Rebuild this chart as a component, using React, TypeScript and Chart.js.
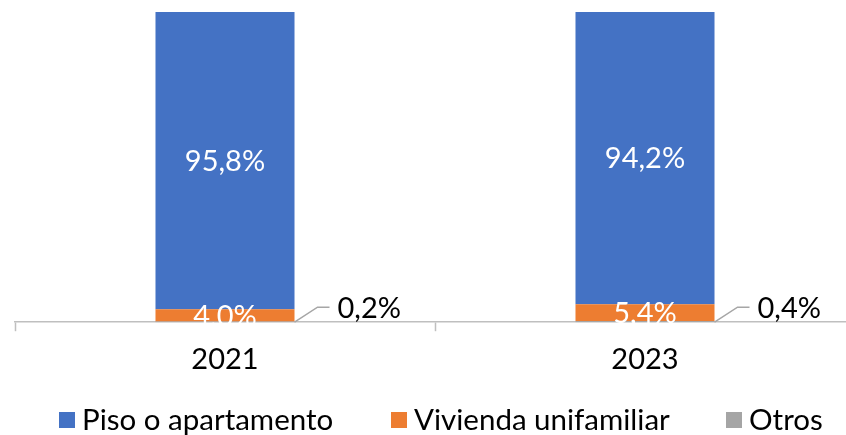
import React, { useEffect, useRef } from "react";
import { Chart, registerables } from "chart.js";

Chart.register(...registerables);

const categories = ["2021", "2023"];
const seriesNames = ["Piso o apartamento", "Vivienda unifamiliar", "Otros"];
const pisoValues = [95.8, 94.2];
const viviendaValues = [4.0, 5.4];
const otrosValues = [0.2, 0.4];
const seriesColors = ["#4472C4", "#ED7D31", "#A5A5A5"];

const FONT = "Lato";
const fmt = (v: number) => v.toFixed(1).replace(".", ",") + "%";

const labelPlugin = {
  id: "segLabels",
  afterDatasetsDraw(chart: any) {
    const ctx = chart.ctx;
    ctx.save();
    ctx.font = `29px ${FONT}`;
    ctx.textBaseline = "middle";
    chart.data.datasets.forEach((ds: any, di: number) => {
      const meta = chart.getDatasetMeta(di);
      meta.data.forEach((bar: any, i: number) => {
        const v = ds.data[i];
        const props = bar.getProps(["x", "y", "base", "width"], true);
        const midY = (props.y + props.base) / 2;
        if (ds.label !== "Otros") {
          ctx.fillStyle = "#FFFFFF";
          ctx.textAlign = "center";
          ctx.fillText(fmt(v), props.x, midY + 1);
        } else {
          const rx = props.x + props.width / 2;
          const by = props.base;
          ctx.strokeStyle = "#A6A6A6";
          ctx.lineWidth = 1.5;
          ctx.beginPath();
          ctx.moveTo(rx, by);
          ctx.lineTo(rx + 23, by - 15);
          ctx.lineTo(rx + 35, by - 15);
          ctx.stroke();
          ctx.fillStyle = "#000000";
          ctx.textAlign = "left";
          ctx.fillText(fmt(v), rx + 43, by - 14);
        }
      });
    });
    ctx.restore();
  },
};

const legendPlugin = {
  id: "customLegend",
  afterDraw(chart: any) {
    const ctx = chart.ctx;
    ctx.save();
    ctx.font = `29.5px ${FONT}`;
    ctx.textBaseline = "middle";
    ctx.textAlign = "left";
    const starts = [59, 391, 726];
    const cy = 420;
    seriesNames.forEach((name, i) => {
      const x = starts[i];
      ctx.fillStyle = seriesColors[i];
      ctx.fillRect(x, cy - 8, 16, 16);
      ctx.fillStyle = "#000";
      ctx.fillText(name, x + 23, cy);
    });
    ctx.restore();
  },
};

export default function App() {
  const ref = useRef<HTMLCanvasElement>(null);
  useEffect(() => {
    if (!ref.current) return;
    const order = [2, 1, 0];
    const all = [pisoValues, viviendaValues, otrosValues];
    const chart = new Chart(ref.current, {
      type: "bar",
      data: {
        labels: categories,
        datasets: order.map((i) => ({
          label: seriesNames[i],
          data: all[i],
          backgroundColor: seriesColors[i],
          borderWidth: 0,
          barPercentage: 1,
          categoryPercentage: 0.331,
        })),
      },
      options: {
        responsive: false,
        animation: false,
        devicePixelRatio: 1,
        layout: { padding: { top: 12, left: 15, right: 15, bottom: 47 } },
        plugins: {
          tooltip: { enabled: false },
          legend: { display: false },
        },
        scales: {
          x: {
            stacked: true,
            offset: true,
            grid: {
              offset: true,
              drawOnChartArea: false,
              tickLength: 9,
              color: "#BFBFBF",
              tickWidth: 1.5,
            },
            border: { color: "#BFBFBF", width: 1.5 },
            ticks: { color: "#000", font: { family: FONT, size: 29 }, padding: 11 },
          },
          y: { stacked: true, display: false, min: 0, max: 100 },
        },
      },
      plugins: [labelPlugin, legendPlugin],
    });
    return () => chart.destroy();
  }, []);
  return (
    <div style={{ position: "fixed", left: 0, top: 0, width: 846, height: 435, overflow: "hidden", background: "#fff" }}>
      <canvas ref={ref} width={870} height={435} style={{ display: "block" }} />
    </div>
  );
}
